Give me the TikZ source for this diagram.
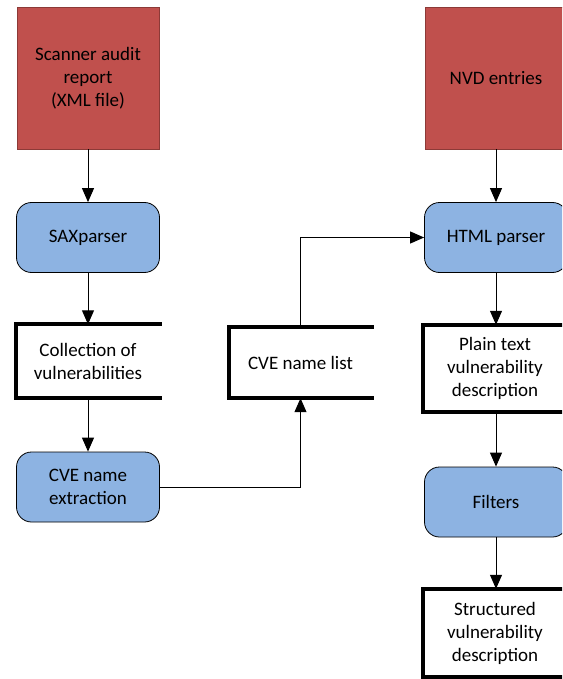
\documentclass[tikz,border=0pt]{standalone}
\usepackage{fontspec}
\setmainfont{Carlito}
\usetikzlibrary{arrows.meta}

\definecolor{srcred}{HTML}{C0504D}
\definecolor{srcedge}{HTML}{8C3A37}
\definecolor{procblue}{HTML}{8DB3E2}

\begin{document}
\begin{tikzpicture}[x=1pt,y=-1pt,
    every node/.style={font=\fontsize{19}{23}\selectfont,align=center,inner sep=0pt},
    source/.style={fill=srcred,draw=srcedge,line width=0.8pt,minimum width=142pt,minimum height=142pt},
    process/.style={fill=procblue,draw=black,line width=0.8pt,rounded corners=15pt,minimum width=143pt,minimum height=70pt},
    store/.style={minimum width=143pt},
    storeline/.style={line width=4pt,line cap=rect},
    flow/.style={line width=1pt,-{Triangle[length=14pt,width=12pt]}}]
    \useasboundingbox (0,0) rectangle (562,679);
    \clip (0,0) rectangle (562,679);

    % left column
    \node[source] (scan) at (88,78) {Scanner audit\\report\\(XML file)};
    \node[process] (sax) at (88,237.5) {SAXparser};
    \node[store,minimum height=73pt] (coll) at (88,361) {Collection of\\vulnerabilities};
    \node[process] (cvex) at (88,487) {CVE name\\extraction};

    % middle
    \node[store,minimum height=71pt] (cvel) at (300.5,362.5) {CVE name list};

    % right column
    \node[source] (nvd) at (496,78) {NVD entries};
    \node[process] (html) at (496,237.5) {HTML parser};
    \node[store,minimum height=87pt] (plain) at (495,368.5) {Plain text\\vulnerability\\description};
    \node[process] (filt) at (496,502) {Filters};
    \node[store,minimum height=88pt] (struct) at (495,633) {Structured\\vulnerability\\description};

    \foreach \n in {coll,cvel,plain,struct}
        \draw[storeline] (\n.north east) -- (\n.north west) -- (\n.south west) -- (\n.south east);

    \draw[flow] (scan) -- (sax);
    \draw[flow] (sax) -- (coll);
    \draw[flow] (coll) -- (cvex);
    \draw[flow] (cvex.east) -| (cvel.south);
    \draw[flow] (cvel.north) |- (html.west);
    \draw[flow] (nvd) -- (html);
    \draw[flow] (html) -- (html |- plain.north);
    \draw[flow] (html |- plain.south) -- (filt);
    \draw[flow] (filt) -- (filt |- struct.north);
\end{tikzpicture}
\end{document}
